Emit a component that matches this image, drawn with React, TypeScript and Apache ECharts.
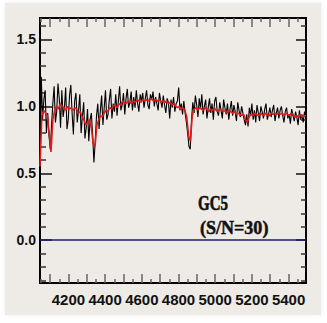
import React, { useEffect, useRef } from "react";
import * as echarts from "echarts";

const X_MIN = 4045;
const X_MAX = 5495;
const Y_MIN = -0.32;
const Y_MAX = 1.66;

// observed spectrum, sampled every 7 Å starting at 4045 Å
const OBS_START = 4045;
const OBS_STEP = 7;
const OBS_FLUX = [
  0.52, 1.22, 0.9, 1.05, 1.12, 0.8, 0.95, 0.78, 0.68, 0.86,
  1.02, 1.15, 0.88, 0.96, 1.17, 1.06, 0.84, 1.12, 0.92, 0.99,
  1.14, 0.83, 0.9, 1.08, 1.16, 0.95, 0.79, 1.04, 1.1, 0.88,
  0.97, 1.09, 0.8, 0.92, 1.03, 0.76, 0.84, 0.98, 0.74, 0.9,
  0.95, 0.78, 0.58, 0.74, 0.93, 1.02, 0.83, 0.97, 1.08, 0.86,
  0.99, 1.12, 0.9, 0.94, 1.05, 1.13, 0.91, 1.02, 0.96, 1.09,
  0.93, 1.04, 1.15, 0.97, 1.01, 1.1, 0.94, 1.06, 1.13, 0.99,
  1.03, 1.11, 0.97, 1.07, 0.99, 1.12, 1.02, 0.96, 1.09, 1.04,
  1.1, 0.99, 1.06, 1.12, 1.01, 0.98, 1.09, 1.05, 1.11, 1.0,
  1.07, 1.02, 0.97, 1.1, 1.04, 0.99, 1.08, 1.01, 0.95, 1.06,
  1.03, 0.91, 1.05, 0.99, 1.07, 0.96, 1.02, 1.04, 1.14, 0.97,
  1.02, 0.94, 1.04, 0.95, 0.88, 0.8, 0.7, 0.68, 0.9, 1.03,
  0.95, 1.08, 1.01, 0.92, 1.06, 0.98, 1.09, 0.94, 1.0, 1.05,
  0.91, 0.99, 1.06, 0.95, 1.02, 0.9, 1.04, 1.07, 0.96, 0.93,
  1.03, 0.97, 0.91, 1.05, 0.99, 0.94, 1.02, 0.9, 0.98, 1.04,
  0.93, 1.01, 0.96, 0.89, 1.03, 0.97, 0.92, 1.0, 0.95, 0.9,
  0.86, 0.94, 0.85, 0.99, 0.93, 1.02, 0.9, 0.97, 0.88, 1.01,
  0.95, 0.89, 1.0, 0.96, 0.91, 0.98, 1.02, 0.9, 0.94, 0.99,
  0.92, 0.97, 1.01, 0.89, 0.95, 0.99, 0.91, 0.97, 1.0, 0.93,
  0.88, 0.96, 0.99, 0.91, 0.94, 0.87, 0.98, 0.93, 0.89, 0.96,
  0.92, 0.86, 0.97, 0.9, 0.94, 0.88, 0.96, 0.91,
];

// model fit, sampled every 10 Å starting at 4045 Å
const FIT_START = 4045;
const FIT_STEP = 10;
const FIT_FLUX = [
  0.55, 0.93, 0.97, 0.95, 0.93, 0.8, 0.66, 0.9, 0.97, 1.0,
  0.98, 1.02, 1.0, 0.99, 0.97, 1.0, 0.98, 0.99, 0.97, 0.99,
  0.98, 0.95, 0.96, 0.92, 0.9, 0.86, 0.88, 0.9, 0.84, 0.72,
  0.7, 0.86, 0.9, 0.93, 0.92, 0.95, 0.97, 0.96, 0.99, 0.98,
  1.0, 1.01, 0.99, 1.02, 1.01, 1.04, 1.03, 1.02, 1.04, 1.03,
  1.02, 1.04, 1.03, 1.05, 1.04, 1.03, 1.05, 1.04, 1.05, 1.04,
  1.06, 1.05, 1.04, 1.05, 1.04, 1.05, 1.03, 1.04, 1.03, 1.04,
  1.02, 1.03, 1.01, 1.02, 1.0, 0.99, 1.0, 0.98, 0.99, 0.97,
  0.92, 0.78, 0.74, 0.93, 0.98, 0.99, 0.97, 0.99, 0.98, 0.97,
  0.99, 0.98, 0.96, 0.98, 0.97, 0.99, 0.97, 0.96, 0.98, 0.97,
  0.96, 0.97, 0.95, 0.97, 0.96, 0.95, 0.96, 0.94, 0.95, 0.94,
  0.93, 0.94, 0.9, 0.88, 0.92, 0.94, 0.93, 0.95, 0.94, 0.93,
  0.95, 0.94, 0.93, 0.95, 0.94, 0.93, 0.95, 0.94, 0.95, 0.94,
  0.95, 0.94, 0.95, 0.93, 0.95, 0.94, 0.93, 0.95, 0.94, 0.92,
  0.93, 0.92, 0.94, 0.92, 0.93, 0.93,
];

const ZERO_LEVEL = 0;

const X_MAJOR_TICKS = [4100, 4200, 4300, 4400, 4500, 4600, 4700, 4800, 4900, 5000, 5100, 5200, 5300, 5400];
const X_MINOR_TICKS = [4050, 4150, 4250, 4350, 4450, 4550, 4650, 4750, 4850, 4950, 5050, 5150, 5250, 5350, 5450];
const X_LABELS = [4200, 4400, 4600, 4800, 5000, 5200, 5400];
const Y_MAJOR_TICKS = [0, 0.5, 1.0, 1.5];
const Y_MINOR_TICKS = [-0.3, -0.2, -0.1, 0.1, 0.2, 0.3, 0.4, 0.6, 0.7, 0.8, 0.9, 1.1, 1.2, 1.3, 1.4, 1.6];

const OBJECT_NAME = "GC5";
const SN_TEXT = "(S/N=30)";

export default function App() {
  const ref = useRef<HTMLDivElement>(null);

  useEffect(() => {
    if (!ref.current) return;
    const chart = echarts.init(ref.current, undefined, { renderer: "svg" });

    const obs = OBS_FLUX.map((v, i) => [OBS_START + i * OBS_STEP, v]);
    const fit = FIT_FLUX.map((v, i) => [FIT_START + i * FIT_STEP, v]);

    const tickFont = "'Liberation Sans Narrow', 'Liberation Sans', Arial, sans-serif";
    const base = {
      type: "value" as const,
      splitLine: { show: false },
      axisLine: { show: false, onZero: false },
    };
    const xBase = { ...base, min: X_MIN, max: X_MAX };
    const yBase = { ...base, min: Y_MIN, max: Y_MAX };
    const xTickStyle = { color: "#666", width: 1.5 };

    chart.setOption({
      animation: false,
      backgroundColor: "#ffffff",
      grid: {
        left: 40,
        right: 21,
        top: 18,
        bottom: 40,
        show: true,
        borderColor: "#000",
        borderWidth: 2,
        backgroundColor: "transparent",
        containLabel: false,
      },
      xAxis: [
        {
          ...xBase,
          position: "bottom",
          axisTick: { show: true, inside: true, length: 9, customValues: X_MAJOR_TICKS, lineStyle: xTickStyle },
          axisLabel: {
            show: true,
            customValues: X_LABELS,
            formatter: (v: number) => String(v),
            hideOverlap: false,
            margin: 9,
            fontSize: 15,
            fontWeight: "bold",
            fontFamily: tickFont,
            color: "#111",
          },
        },
        {
          ...xBase,
          position: "bottom",
          axisTick: { show: true, inside: true, length: 4, customValues: X_MINOR_TICKS, lineStyle: xTickStyle },
          axisLabel: { show: false },
        },
        {
          ...xBase,
          position: "top",
          axisTick: { show: true, inside: true, length: 9, customValues: X_MAJOR_TICKS, lineStyle: xTickStyle },
          axisLabel: { show: false },
        },
        {
          ...xBase,
          position: "top",
          axisTick: { show: true, inside: true, length: 4, customValues: X_MINOR_TICKS, lineStyle: xTickStyle },
          axisLabel: { show: false },
        },
      ],
      yAxis: [
        {
          ...yBase,
          position: "left",
          axisTick: { show: true, inside: true, length: 12, customValues: Y_MAJOR_TICKS, lineStyle: { color: "#111", width: 1.5 } },
          axisLabel: {
            show: true,
            customValues: Y_MAJOR_TICKS,
            formatter: (v: number) => v.toFixed(1),
            margin: 4,
            fontSize: 14,
            fontWeight: "bold",
            fontFamily: "'Liberation Sans', Arial, sans-serif",
            color: "#111",
          },
        },
        {
          ...yBase,
          position: "left",
          axisTick: { show: true, inside: true, length: 6, customValues: Y_MINOR_TICKS, lineStyle: { color: "#333", width: 1.5 } },
          axisLabel: { show: false },
        },
        {
          ...yBase,
          position: "right",
          axisTick: { show: true, inside: true, length: 10, customValues: Y_MAJOR_TICKS, lineStyle: { color: "#111", width: 1.5 } },
          axisLabel: { show: false },
        },
        {
          ...yBase,
          position: "right",
          axisTick: { show: true, inside: true, length: 5, customValues: Y_MINOR_TICKS, lineStyle: { color: "#333", width: 1.5 } },
          axisLabel: { show: false },
        },
      ],
      series: [
        {
          type: "line",
          xAxisIndex: 0,
          yAxisIndex: 0,
          data: obs,
          showSymbol: false,
          symbol: "none",
          lineStyle: { color: "#000", width: 1.1 },
          z: 2,
          silent: true,
        },
        {
          type: "line",
          xAxisIndex: 0,
          yAxisIndex: 0,
          data: fit,
          showSymbol: false,
          symbol: "none",
          lineStyle: { color: "#e01b1b", width: 1.6 },
          z: 3,
          silent: true,
          markLine: {
            silent: true,
            symbol: "none",
            label: { show: false },
            lineStyle: { color: "#1c1c7a", width: 1.5, type: "solid" },
            data: [{ yAxis: ZERO_LEVEL }],
          },
        },
      ],
      graphic: [
        {
          type: "rect",
          z: -10,
          shape: { x: 5, y: 3, width: 316, height: 312 },
          style: { fill: "#eeebe7", shadowBlur: 4, shadowColor: "rgba(0,0,0,0.08)" },
        },
        {
          type: "text",
          x: 198,
          y: 203,
          scaleX: 0.75,
          z: 10,
          style: {
            text: OBJECT_NAME,
            font: "bold 20px 'Liberation Serif', 'DejaVu Serif', serif",
            fill: "#111",
            stroke: "#111",
            lineWidth: 0.6,
            verticalAlign: "middle",
          },
        },
        {
          type: "text",
          x: 200,
          y: 227,
          scaleX: 0.95,
          z: 10,
          style: {
            text: SN_TEXT,
            font: "bold 19px 'Liberation Serif', 'DejaVu Serif', serif",
            fill: "#111",
            stroke: "#111",
            lineWidth: 0.5,
            verticalAlign: "middle",
          },
        },
      ],
    });

    return () => chart.dispose();
  }, []);

  return (
    <div
      ref={ref}
      style={{ position: "fixed", left: 0, top: 0, width: 327, height: 323 }}
    />
  );
}
